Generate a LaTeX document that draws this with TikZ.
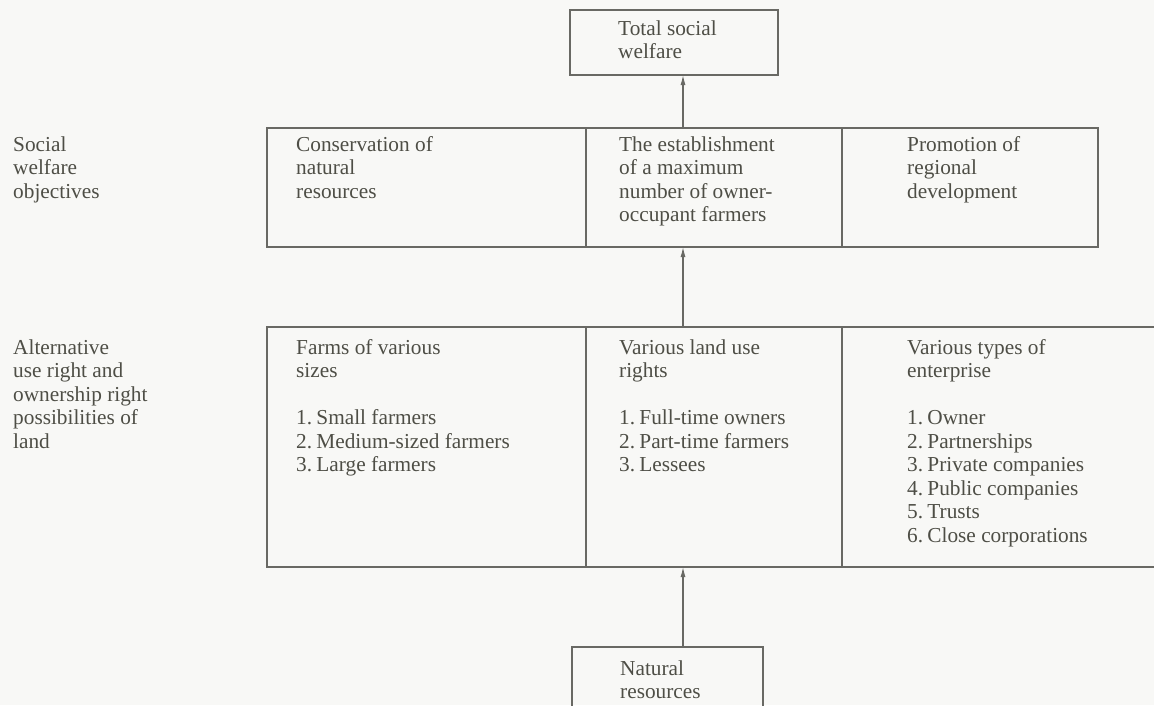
\documentclass[tikz,border=0pt]{standalone}
\usepackage{fontspec}
\setmainfont{Liberation Serif}
\usetikzlibrary{arrows.meta}
\definecolor{bg}{RGB}{248,248,246}
\definecolor{ln}{RGB}{105,105,100}
\definecolor{tx}{RGB}{78,78,70}
\newcommand{\itm}[1]{\makebox[0.95em][l]{#1.}}
\tikzset{
  cell/.style={draw=ln, line width=1.1pt, anchor=north west, inner sep=0pt, outer sep=0pt},
  txt/.style={font=\fontsize{21.3}{23.5}\selectfont, text=tx, inner sep=0pt, anchor=north west, align=left},
  arr/.style={draw=ln, line width=1.1pt, -{Latex[length=10pt,width=5pt]}}
}
\begin{document}
\begin{tikzpicture}[x=1pt,y=-1pt]
\useasboundingbox (0,0) rectangle (1154,705);
\clip (0,0) rectangle (1154,705);
\fill[bg] (0,0) rectangle (1154,705);
% boxes
\node[cell, minimum width=208pt, minimum height=65pt] (top) at (570,10) {};
\node[cell, minimum width=319pt, minimum height=119pt] (m1) at (267,128) {};
\node[cell, minimum width=256pt, minimum height=119pt] (m2) at (586,128) {};
\node[cell, minimum width=256pt, minimum height=119pt] (m3) at (842,128) {};
\node[cell, minimum width=319pt, minimum height=240pt] (b1) at (267,327) {};
\node[cell, minimum width=256pt, minimum height=240pt] (b2) at (586,327) {};
\node[cell, minimum width=340pt, minimum height=240pt] (b3) at (842,327) {};
\node[cell, minimum width=191pt, minimum height=90pt] (nat) at (572,647) {};
% texts
\node[txt] (ttop) at (618,18.55) {\strut Total social\\welfare};
\node[txt] (lab1) at (13,134.55) {\strut Social\\welfare\\objectives};
\node[txt] (tm1) at (296,134.55) {\strut Conservation of\\natural\\resources};
\node[txt] (tm2) at (619,134.55) {\strut The establishment\\of a maximum\\number of owner-\\occupant farmers};
\node[txt] (tm3) at (907,134.55) {\strut Promotion of\\regional\\development};
\node[txt] (lab2) at (13,337.55) {\strut Alternative\\use right and\\ownership right\\possibilities of\\land};
\node[txt] (tb1) at (296,337.55) {\strut Farms of various\\sizes\\\strut\\\itm{1}Small farmers\\\itm{2}Medium-sized farmers\\\itm{3}Large farmers};
\node[txt] (tb2) at (619,337.55) {\strut Various land use\\rights\\\strut\\\itm{1}Full-time owners\\\itm{2}Part-time farmers\\\itm{3}Lessees};
\node[txt] (tb3) at (907,337.55) {\strut Various types of\\enterprise\\\strut\\\itm{1}Owner\\\itm{2}Partnerships\\\itm{3}Private companies\\\itm{4}Public companies\\\itm{5}Trusts\\\itm{6}Close corporations};
\node[txt] (tnat) at (620,658.55) {\strut Natural\\resources};
% arrows
\coordinate (ax) at (683,0);
\draw[arr] (m2.north -| ax) -- (top.south -| ax);
\draw[arr] (b2.north -| ax) -- (m2.south -| ax);
\draw[arr] (nat.north -| ax) -- (b2.south -| ax);
\end{tikzpicture}
\end{document}
